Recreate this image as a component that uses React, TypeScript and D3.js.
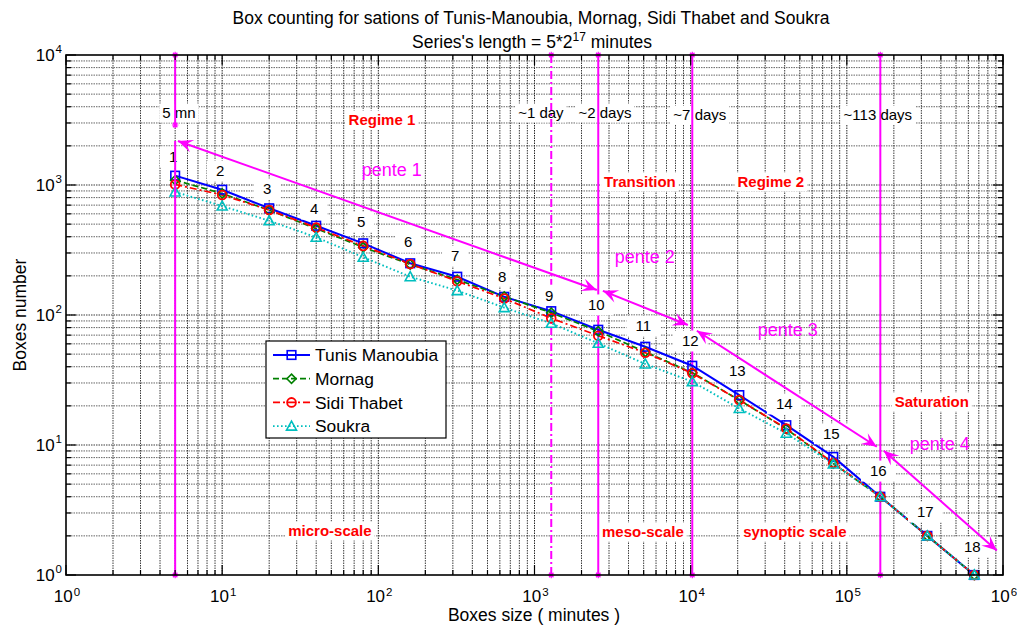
import React, { useEffect, useRef } from 'react';
import * as d3 from 'd3';

// ---------- data ----------
const boxSizes = [5, 10, 20, 40, 80, 160, 320, 640, 1280, 2560, 5120, 10240, 20480, 40960, 81920, 163840, 327680, 655360];
const tunisManoubia = [1180, 920, 662, 486, 356, 250, 197, 138, 107, 77, 57, 40.7, 24.2, 14.2, 8.1, 4, 2, 1];
const mornag = [1090, 860, 640, 462, 332, 245, 187, 139, 104, 75, 52, 36, 22.2, 13.3, 7.2, 4, 2, 1];
const sidiThabet = [1010, 838, 642, 470, 340, 247, 182, 134, 94.4, 69.3, 51.3, 35.6, 22.2, 13.4, 7.26, 4, 2, 1];
const soukra = [884, 689, 531, 396, 278, 197, 154, 114, 86.3, 60.6, 42, 30.7, 19.1, 12.3, 7.14, 4, 2, 1];

const pointLabels = ['1', '2', '3', '4', '5', '6', '7', '8', '9', '10', '11', '12', '13', '14', '15', '16', '17', '18'];
const pointLabelY = [1641, 1282, 932, 653, 519, 364, 284, 199, 142, 119.5, 82.3, 63.1, 37.1, 20.7, 12.2, 6.3, 3.05, 1.64];

const xTickExps = [0, 1, 2, 3, 4, 5, 6];
const yTickExps = [0, 1, 2, 3, 4];

const seriesNames = ['Tunis Manoubia', 'Mornag', 'Sidi Thabet', 'Soukra'];

// vertical scale markers
const vlineX = [1280, 2560, 10240, 163840];
const vlineDash = ['8,3,2,3', '', '', ''];
const fiveMnX = 5;
const fiveMnSegTop = [10000, 2894];
const fiveMnSegBottom = [2180, 1];

// slope arrows (double)
const arrowX1 = [5.21, 2741, 10956, 172500];
const arrowY1 = [2180, 153.5, 75.7, 9.04];
const arrowX2 = [2508, 9596, 155600, 912600];
const arrowY2 = [155.7, 83.8, 9.7, 1.54];

// annotation texts
const annPlain = ['5 mn', '~1 day', '~2 days', '~7 days', '~113 days'];
const annPlainX = [5.29, 1099, 2825, 11450, 157900];
const annPlainY = [3580, 3580, 3580, 3455, 3455];

const annRed = ['Regime 1', 'Transition', 'Regime 2', 'Saturation', 'micro-scale', 'meso-scale', 'synoptic scale'];
const annRedX = [105.5, 4730, 32600, 350000, 49, 4945, 46450];
const annRedY = [3162, 1055, 1055, 21.4, 2.18, 2.14, 2.14];

const annPente = ['pente 1', 'pente 2', 'pente 3', 'pente 4'];
const annPenteX = [122, 5090, 41900, 393900];
const annPenteY = [1304, 284, 78, 10.3];

const W = 1017;
const H = 626;
const FONT = "'Liberation Sans', Arial, Helvetica, sans-serif";
const MAG = '#ff00ff';

let measureCtx: CanvasRenderingContext2D | null = null;
function measure(txt: string, size: number, weight: string): number {
  if (!measureCtx) {
    const c = document.createElement('canvas');
    measureCtx = c.getContext('2d');
  }
  if (!measureCtx) return txt.length * size * 0.55;
  measureCtx.font = `${weight} ${size}px 'Liberation Sans', Arial, sans-serif`;
  const w = measureCtx.measureText(txt).width;
  return w > 0 ? w : txt.length * size * 0.55;
}

export default function App() {
  const ref = useRef<SVGSVGElement>(null);

  useEffect(() => {
    const svg = d3.select(ref.current as SVGSVGElement);
    svg.selectAll('*').remove();

    const L = 66, R = 1003, T = 55, B = 575;
    const x = d3.scaleLog().domain([1, 1e6]).range([L, R]);
    const y = d3.scaleLog().domain([1, 1e4]).range([B, T]);

    svg.append('rect').attr('width', W).attr('height', H).attr('fill', '#fff');

    const xt = x.ticks();
    const yt = y.ticks();
    const isMajor = (v: number) => Math.abs(Math.log10(v) - Math.round(Math.log10(v))) < 1e-9;

    // grid
    const grid = svg.append('g');
    xt.forEach((v) => {
      if (v <= 1 || v >= 1e6) return;
      grid.append('line').attr('x1', x(v)).attr('x2', x(v)).attr('y1', T).attr('y2', B)
        .attr('stroke', '#000').attr('stroke-width', 0.9).attr('stroke-dasharray', '1.5,1')
        .attr('opacity', isMajor(v) ? 0.95 : 0.85);
    });
    yt.forEach((v) => {
      if (v <= 1 || v >= 1e4) return;
      grid.append('line').attr('y1', y(v)).attr('y2', y(v)).attr('x1', L).attr('x2', R)
        .attr('stroke', '#333').attr('stroke-width', 1).attr('stroke-dasharray', '1.5,1')
        .attr('opacity', isMajor(v) ? 0.95 : 0.75);
    });

    const gAnnBox = svg.append('g');
    const gVline = svg.append('g');
    const gAnnText = svg.append('g');
    const gData = svg.append('g');
    const gNumBox = svg.append('g');
    const gNumText = svg.append('g');
    const gFive = svg.append('g');
    const gArrow = svg.append('g');
    const gLegend = svg.append('g');
    const gAxis = svg.append('g');

    function boxedText(gBox: any, gText: any, txt: string, cx: number, cy: number,
      size: number, weight: string, color: string, padX: number, padY: number) {
      const w = measure(txt, size, weight);
      gBox.append('rect').attr('x', cx - w / 2 - padX).attr('y', cy - size * 0.5 - padY)
        .attr('width', w + 2 * padX).attr('height', size + 2 * padY).attr('fill', '#fff');
      gText.append('text').attr('x', cx).attr('y', cy + size * 0.36)
        .attr('text-anchor', 'middle').attr('font-family', FONT).attr('font-size', size)
        .attr('font-weight', weight).attr('fill', color).text(txt);
    }

    // annotation texts with white boxes
    annPlain.forEach((s, i) => boxedText(gAnnBox, gAnnText, s, x(annPlainX[i]), y(annPlainY[i]), 15, 'normal', '#000', 3, 2));
    annRed.forEach((s, i) => boxedText(gAnnBox, gAnnText, s, x(annRedX[i]), y(annRedY[i]), 15, 'bold', '#ff0000', 3, 2));
    annPente.forEach((s, i) => gAnnText.append('text').attr('x', x(annPenteX[i])).attr('y', y(annPenteY[i]) + 18 * 0.36)
      .attr('text-anchor', 'middle').attr('font-family', FONT).attr('font-size', 18).attr('fill', MAG).text(s));

    // star markers
    function star(g: any, cx: number, cy: number) {
      const r = 3.2;
      const p = `M${cx - r},${cy}L${cx + r},${cy}M${cx},${cy - r}L${cx},${cy + r}M${cx - r * 0.7},${cy - r * 0.7}L${cx + r * 0.7},${cy + r * 0.7}M${cx - r * 0.7},${cy + r * 0.7}L${cx + r * 0.7},${cy - r * 0.7}`;
      g.append('path').attr('d', p).attr('stroke', MAG).attr('stroke-width', 1.2).attr('fill', 'none');
    }

    // vertical lines
    vlineX.forEach((v, i) => {
      gVline.append('line').attr('x1', x(v)).attr('x2', x(v)).attr('y1', T).attr('y2', B)
        .attr('stroke', MAG).attr('stroke-width', 2).attr('stroke-dasharray', vlineDash[i] || null);
      star(gVline, x(v), T);
      star(gVline, x(v), B);
    });

    // data
    const series = [
      { v: tunisManoubia, color: '#0000ff', dash: '', w: 2, m: 'square' },
      { v: mornag, color: '#008000', dash: '6,3', w: 1.7, m: 'diamond' },
      { v: sidiThabet, color: '#ff0000', dash: '7,3,2,3', w: 1.7, m: 'circle' },
      { v: soukra, color: '#00bfbf', dash: '1.6,2.4', w: 1.9, m: 'triangle' },
    ];
    function marker(g: any, kind: string, cx: number, cy: number, color: string) {
      if (kind === 'square') {
        g.append('rect').attr('x', cx - 4.3).attr('y', cy - 4.3).attr('width', 8.6).attr('height', 8.6)
          .attr('fill', 'none').attr('stroke', color).attr('stroke-width', 1.6);
      } else if (kind === 'diamond') {
        const r = 4.6;
        g.append('path').attr('d', `M${cx},${cy - r}L${cx + r},${cy}L${cx},${cy + r}L${cx - r},${cy}Z`)
          .attr('fill', 'none').attr('stroke', color).attr('stroke-width', 1.6);
      } else if (kind === 'circle') {
        g.append('circle').attr('cx', cx).attr('cy', cy).attr('r', 4.4)
          .attr('fill', 'none').attr('stroke', color).attr('stroke-width', 1.8);
      } else {
        const r = 5;
        g.append('path').attr('d', `M${cx},${cy - r}L${cx + r},${cy + r * 0.8}L${cx - r},${cy + r * 0.8}Z`)
          .attr('fill', 'none').attr('stroke', color).attr('stroke-width', 1.6);
      }
    }
    const lineGen = d3.line<number>().x((_, i) => x(boxSizes[i])).y((d) => y(d));
    series.forEach((s) => {
      gData.append('path').attr('d', lineGen(s.v) as string).attr('fill', 'none')
        .attr('stroke', s.color).attr('stroke-width', s.w).attr('stroke-dasharray', s.dash || null);
    });
    series.forEach((s) => {
      s.v.forEach((d, i) => marker(gData, s.m, x(boxSizes[i]), y(d), s.color));
    });

    // number labels
    pointLabels.forEach((s, i) => boxedText(gNumBox, gNumText, s, x(boxSizes[i]) - 2, y(pointLabelY[i]), 15, 'normal', '#000', 9, 3));

    // 5 mn line (two segments)
    [fiveMnSegTop, fiveMnSegBottom].forEach((seg) => {
      gFive.append('line').attr('x1', x(fiveMnX)).attr('x2', x(fiveMnX)).attr('y1', y(seg[0])).attr('y2', y(seg[1]))
        .attr('stroke', MAG).attr('stroke-width', 2);
    });
    star(gFive, x(fiveMnX), T);
    star(gFive, x(fiveMnX), y(fiveMnSegTop[1]));
    star(gFive, x(fiveMnX), B);

    // arrows
    function head(g: any, tx: number, ty: number, fx: number, fy: number) {
      const ang = Math.atan2(ty - fy, tx - fx);
      const Lh = 15, Wh = 6.5, notch = 9;
      const ca = Math.cos(ang), sa = Math.sin(ang);
      const bx = tx - Lh * ca, by = ty - Lh * sa;
      const p1 = [bx - Wh * sa, by + Wh * ca];
      const p2 = [bx + Wh * sa, by - Wh * ca];
      const n = [tx - notch * ca, ty - notch * sa];
      g.append('path').attr('d', `M${tx},${ty}L${p1[0]},${p1[1]}L${n[0]},${n[1]}L${p2[0]},${p2[1]}Z`).attr('fill', MAG);
    }
    arrowX1.forEach((_, i) => {
      const x1 = x(arrowX1[i]), y1 = y(arrowY1[i]), x2 = x(arrowX2[i]), y2 = y(arrowY2[i]);
      gArrow.append('line').attr('x1', x1).attr('y1', y1).attr('x2', x2).attr('y2', y2)
        .attr('stroke', MAG).attr('stroke-width', 2);
      head(gArrow, x1, y1, x2, y2);
      head(gArrow, x2, y2, x1, y1);
    });

    // legend
    const lgX = 266, lgY = 341, lgW = 180, lgH = 97;
    gLegend.append('rect').attr('x', lgX).attr('y', lgY).attr('width', lgW).attr('height', lgH)
      .attr('fill', '#fff').attr('stroke', '#000').attr('stroke-width', 1.2);
    series.forEach((s, i) => {
      const cy = 355 + i * 23.7;
      gLegend.append('line').attr('x1', 273).attr('x2', 310).attr('y1', cy).attr('y2', cy)
        .attr('stroke', s.color).attr('stroke-width', s.w).attr('stroke-dasharray', s.dash || null);
      marker(gLegend, s.m, 291.5, cy, s.color);
      gLegend.append('text').attr('x', 315).attr('y', cy + 6.2).attr('font-family', FONT).attr('font-size', 17.4)
        .attr('fill', '#000').text(seriesNames[i]);
    });

    // axes box and ticks
    gAxis.append('rect').attr('x', L).attr('y', T).attr('width', R - L).attr('height', B - T)
      .attr('fill', 'none').attr('stroke', '#000').attr('stroke-width', 1.6);
    xt.forEach((v) => {
      const len = isMajor(v) ? 10 : 5;
      gAxis.append('line').attr('x1', x(v)).attr('x2', x(v)).attr('y1', B).attr('y2', B - len).attr('stroke', '#000').attr('stroke-width', 1.2);
      gAxis.append('line').attr('x1', x(v)).attr('x2', x(v)).attr('y1', T).attr('y2', T + len).attr('stroke', '#000').attr('stroke-width', 1.2);
    });
    yt.forEach((v) => {
      const len = isMajor(v) ? 10 : 5;
      gAxis.append('line').attr('y1', y(v)).attr('y2', y(v)).attr('x1', L).attr('x2', L + len).attr('stroke', '#000').attr('stroke-width', 1.2);
      gAxis.append('line').attr('y1', y(v)).attr('y2', y(v)).attr('x1', R).attr('x2', R - len).attr('stroke', '#000').attr('stroke-width', 1.2);
    });
    xTickExps.forEach((e) => {
      const t = gAxis.append('text').attr('x', x(10 ** e) + 1).attr('y', 602).attr('text-anchor', 'middle')
        .attr('font-family', FONT).attr('font-size', 17).attr('fill', '#000');
      t.append('tspan').text('10');
      t.append('tspan').attr('dy', -6).attr('dx', 1).attr('font-size', 11.5).text(String(e));
    });
    yTickExps.forEach((e) => {
      const t = gAxis.append('text').attr('x', 62).attr('y', y(10 ** e) + 6).attr('text-anchor', 'end')
        .attr('font-family', FONT).attr('font-size', 17).attr('fill', '#000');
      t.append('tspan').text('10');
      t.append('tspan').attr('dy', -8).attr('dx', 1).attr('font-size', 11.5).text(String(e));
    });

    // titles
    svg.append('text').attr('x', 531).attr('y', 24).attr('text-anchor', 'middle').attr('font-family', FONT)
      .attr('font-size', 17.5).attr('fill', '#000')
      .text('Box counting for sations of Tunis-Manoubia, Mornag, Sidi Thabet and Soukra');
    const t2 = svg.append('text').attr('x', 532).attr('y', 48).attr('text-anchor', 'middle').attr('font-family', FONT)
      .attr('font-size', 17.5).attr('fill', '#000');
    t2.append('tspan').text("Series's length = 5*2");
    t2.append('tspan').attr('dy', -7).attr('font-size', 12).text('17');
    t2.append('tspan').attr('dy', 7).text(' minutes');

    svg.append('text').attr('x', 534).attr('y', 621).attr('text-anchor', 'middle').attr('font-family', FONT)
      .attr('font-size', 17.5).attr('fill', '#000').text('Boxes size ( minutes )');
    svg.append('text').attr('transform', 'translate(26,315) rotate(-90)').attr('text-anchor', 'middle')
      .attr('font-family', FONT).attr('font-size', 17.5).attr('fill', '#000').text('Boxes number');
  }, []);

  return <svg ref={ref} width={W} height={H} style={{ position: 'absolute', left: 0, top: 0, display: 'block' }} />;
}
